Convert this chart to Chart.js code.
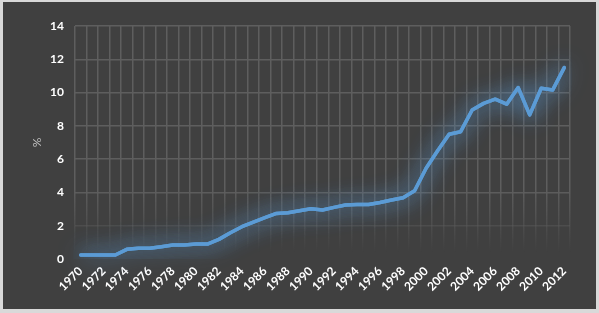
<!DOCTYPE html>
<html>
<head>
<meta charset="utf-8">
<script src="https://cdn.jsdelivr.net/npm/chart.js@4/dist/chart.umd.min.js"></script>
<style>
    body { margin: 0; background: #ffffff; }
    #marco { position: absolute; left: 0; top: 0; width: 599px; height: 313px; background: #d9d9d9; }
    #caja { position: absolute; left: 3px; top: 2px; width: 593px; height: 307px; background: #404040; }
</style>
</head>
<body>
<div id="marco">
    <div id="caja"><canvas id="grafica" width="593" height="307"></canvas></div>
</div>
<script>
// datos
var anios = [];
for (var a = 1970; a <= 2012; a++) { anios.push(String(a)); }

var porcentaje = [
    0.24, 0.24, 0.24, 0.24, 0.58, 0.64, 0.64, 0.74, 0.84, 0.84,
    0.90, 0.90, 1.18, 1.58, 1.94, 2.22, 2.48, 2.74, 2.78, 2.90,
    3.02, 2.94, 3.10, 3.24, 3.28, 3.28, 3.40, 3.54, 3.68, 4.10,
    5.45, 6.50, 7.50, 7.65, 8.95, 9.35, 9.60, 9.30, 10.30, 8.66,
    10.26, 10.16, 11.50
];

var ticksY = [0, 2, 4, 6, 8, 10, 12, 14];

function colorRejilla(context) {
    var chart = context.chart;
    var area = chart.chartArea;
    if (!area) { return '#5a5a5a'; }
    var g = chart.ctx.createLinearGradient(0, area.top, 0, area.bottom);
    g.addColorStop(0, 'rgba(94,94,94,1)');
    g.addColorStop(0.70, 'rgba(94,94,94,1)');
    g.addColorStop(0.97, 'rgba(94,94,94,0)');
    g.addColorStop(1, 'rgba(94,94,94,0)');
    return g;
}

// brillo alrededor de la linea
var brillo = {
    id: 'brillo',
    beforeDatasetDraw: function(chart, args) {
        var ctx = chart.ctx;
        var linea = args.meta.dataset;
        ctx.save();
        ctx.shadowColor = 'rgba(91,155,213,0.9)';
        ctx.shadowBlur = 22;
        linea.draw(ctx, chart.chartArea);
    },
    afterDatasetDraw: function(chart) {
        chart.ctx.restore();
    }
};

var fuente = { family: 'Lato, "Open Sans", sans-serif', size: 12, weight: 'bold' };

new Chart(document.getElementById('grafica'), {
    type: 'line',
    data: {
        labels: anios,
        datasets: [{
            data: porcentaje,
            borderColor: '#5b9bd5',
            borderWidth: 3.5,
            borderJoinStyle: 'round',
            borderCapStyle: 'round',
            pointRadius: 0,
            tension: 0,
            fill: false
        }]
    },
    options: {
        responsive: false,
        animation: false,
        devicePixelRatio: 1,
        layout: { padding: { top: 24, right: 26, left: 0, bottom: 0 } },
        plugins: {
            legend: { display: false },
            tooltip: { enabled: false }
        },
        scales: {
            x: {
                offset: true,
                grid: { offset: true, color: colorRejilla, lineWidth: 1.5, drawTicks: false },
                border: { display: false },
                afterFit: function(scale) { scale.height = 50; },
                ticks: {
                    autoSkip: false,
                    maxRotation: 45,
                    minRotation: 45,
                    padding: 5,
                    color: '#ffffff',
                    font: fuente,
                    callback: function(val, i) { return i % 2 === 0 ? anios[i] : ''; }
                }
            },
            y: {
                min: 0,
                max: 14,
                afterFit: function(scale) { scale.width = 72; },
                afterBuildTicks: function(scale) {
                    scale.ticks = ticksY.map(function(v) { return { value: v }; });
                },
                grid: { color: colorRejilla, lineWidth: 1.5, drawTicks: false },
                border: { display: false },
                title: {
                    display: true,
                    text: '%',
                    color: '#bfbfbf',
                    font: { family: 'Lato, sans-serif', size: 12 },
                    padding: { top: 27, bottom: 0 }
                },
                ticks: {
                    autoSkip: false,
                    padding: 11,
                    color: '#ffffff',
                    font: fuente
                }
            }
        }
    },
    plugins: [brillo]
});
</script>
</body>
</html>
